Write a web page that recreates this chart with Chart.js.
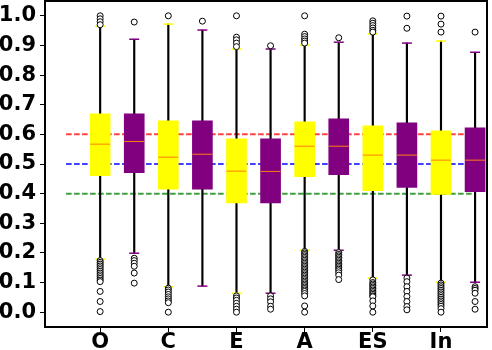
<!DOCTYPE html>
<html lang="en">
<head>
  <meta charset="UTF-8">
  <title>Boxplot</title>
  <script src="https://cdn.jsdelivr.net/npm/chart.js"></script>
  <style>
    body { margin: 0; background: #fff; overflow: hidden; }
    canvas { display: block; }
  </style>
</head>
<body>
  <canvas id="chart" width="492" height="350"></canvas>

  <script>
    const categories = ["O", "C", "E", "A", "ES", "In"];
    const yTicks = [0.0, 0.1, 0.2, 0.3, 0.4, 0.5, 0.6, 0.7, 0.8, 0.9, 1.0];

    // yellow boxes
    const loY  = [0.179, 0.086, 0.064, 0.209, 0.115, 0.101];
    const q1Y  = [0.461, 0.415, 0.369, 0.457, 0.410, 0.397];
    const medY = [0.567, 0.523, 0.476, 0.560, 0.530, 0.513];
    const q3Y  = [0.669, 0.646, 0.585, 0.642, 0.629, 0.612];
    const hiY  = [0.965, 0.972, 0.888, 0.901, 0.939, 0.915];

    // purple boxes
    const loP  = [0.199, 0.088, 0.064, 0.209, 0.125, 0.101];
    const q1P  = [0.471, 0.415, 0.369, 0.464, 0.421, 0.407];
    const medP = [0.576, 0.533, 0.475, 0.560, 0.530, 0.513];
    const q3P  = [0.669, 0.646, 0.585, 0.652, 0.639, 0.622];
    const hiP  = [0.921, 0.952, 0.888, 0.911, 0.908, 0.877];

    const outY = [
      [1.0, 0.99, 0.98, 0.97, 0.174, 0.168, 0.162, 0.156, 0.15, 0.144, 0.138, 0.132, 0.126, 0.12, 0.114, 0.108, 0.103, 0.07, 0.036, 0.002],
      [1.0, 0.081, 0.075, 0.068, 0.06, 0.052, 0.045, 0.038, 0.032, 0.0],
      [1.0, 0.928, 0.919, 0.908, 0.896, 0.055, 0.048, 0.04, 0.03, 0.02, 0.01, 0.0],
      [1.0, 0.938, 0.93, 0.922, 0.915, 0.908, 0.205, 0.2, 0.195, 0.19, 0.185, 0.18, 0.175, 0.17, 0.165, 0.16, 0.155, 0.15, 0.145, 0.14, 0.135, 0.13, 0.125, 0.12, 0.115, 0.11, 0.105, 0.1, 0.095, 0.09, 0.085, 0.08, 0.075, 0.07, 0.063, 0.055, 0.021, 0.0],
      [0.983, 0.975, 0.967, 0.959, 0.951, 0.945, 0.109, 0.1, 0.095, 0.09, 0.085, 0.08, 0.075, 0.07, 0.065, 0.06, 0.055, 0.052, 0.038, 0.021, 0.0],
      [0.999, 0.972, 0.945, 0.098, 0.092, 0.086, 0.08, 0.074, 0.068, 0.062, 0.056, 0.05, 0.044, 0.038, 0.032, 0.026, 0.02, 0.012, 0.0]
    ];
    const outP = [
      [0.979, 0.182, 0.174, 0.165, 0.155, 0.132, 0.098],
      [0.982],
      [0.899, 0.055, 0.045, 0.035, 0.02, 0.01],
      [0.926, 0.201, 0.195, 0.19, 0.185, 0.18, 0.175, 0.17, 0.165, 0.16, 0.155, 0.15, 0.145, 0.14, 0.133, 0.125, 0.11],
      [0.999, 0.958, 0.115, 0.103, 0.086, 0.07, 0.053, 0.036, 0.019, 0.008],
      [0.945, 0.086, 0.08, 0.074, 0.064, 0.036, 0.01]
    ];

    const refLines = [0.6, 0.5, 0.4];
    const refColors = ["rgba(255,0,0,0.75)", "rgba(0,0,255,0.75)", "rgba(0,128,0,0.75)"];

    const YEL = "#ffff00", PUR = "#800080";
    const posY = categories.map((c, i) => 2 * i);
    const posP = categories.map((c, i) => 2 * i + 1);

    const whiskers = [];
    posY.forEach((x, i) => whiskers.push({ x: x, y: [loY[i], hiY[i]] }));
    posP.forEach((x, i) => whiskers.push({ x: x, y: [loP[i], hiP[i]] }));

    const outliers = [];
    posY.forEach((x, i) => outY[i].forEach(v => outliers.push({ x: x, y: v })));
    posP.forEach((x, i) => outP[i].forEach(v => outliers.push({ x: x, y: v })));

    const datasets = [];
    refLines.forEach((v, i) => datasets.push({
      type: "line", order: 10,
      data: [{ x: -1, y: v }, { x: 11, y: v }],
      borderColor: refColors[i], borderWidth: 2, borderDash: [5.6, 2.4],
      pointRadius: 0
    }));
    datasets.push({
      type: "bar", order: 8, grouped: false, barThickness: 1.5,
      data: whiskers, backgroundColor: "#000"
    });
    datasets.push({
      type: "scatter", order: 7, pointStyle: "line", pointRadius: 5,
      pointBorderColor: YEL, pointBorderWidth: 1.5,
      data: posY.flatMap((x, i) => [{ x: x, y: loY[i] }, { x: x, y: hiY[i] }])
    });
    datasets.push({
      type: "scatter", order: 7, pointStyle: "line", pointRadius: 5,
      pointBorderColor: PUR, pointBorderWidth: 1.5,
      data: posP.flatMap((x, i) => [{ x: x, y: loP[i] }, { x: x, y: hiP[i] }])
    });
    datasets.push({
      type: "bar", order: 5, grouped: false, barThickness: 20,
      data: posY.map((x, i) => ({ x: x, y: [q1Y[i], q3Y[i]] })),
      backgroundColor: YEL, borderWidth: 0
    });
    datasets.push({
      type: "bar", order: 5, grouped: false, barThickness: 20,
      data: posP.map((x, i) => ({ x: x, y: [q1P[i], q3P[i]] })),
      backgroundColor: PUR, borderWidth: 0
    });
    datasets.push({
      type: "scatter", order: 3, pointStyle: "line", pointRadius: 10,
      pointBorderColor: "#ff7f0e", pointBorderWidth: 1,
      data: posY.map((x, i) => ({ x: x, y: medY[i] })).concat(posP.map((x, i) => ({ x: x, y: medP[i] })))
    });
    datasets.push({
      type: "scatter", order: 1, pointStyle: "circle", pointRadius: 3,
      pointBackgroundColor: "#fff", pointBorderColor: "#000", pointBorderWidth: 1,
      data: outliers
    });

    // axes frame on all four sides
    const frame = {
      id: "frame",
      afterDraw(chart) {
        const a = chart.chartArea, ctx = chart.ctx;
        ctx.save();
        ctx.strokeStyle = "#000";
        ctx.lineWidth = 2;
        ctx.strokeRect(a.left, a.top, a.right - a.left, a.bottom - a.top);
        ctx.restore();
      }
    };

    const tickFont = { family: "DejaVu Sans", size: 21, weight: "bold" };

    new Chart(document.getElementById("chart"), {
      type: "bar",
      data: { datasets: datasets },
      plugins: [frame],
      options: {
        responsive: false,
        devicePixelRatio: 1,
        animation: false,
        layout: { autoPadding: false, padding: { top: 1, right: 5, left: 0, bottom: 0 } },
        plugins: { legend: { display: false }, tooltip: { enabled: false } },
        scales: {
          x: {
            type: "linear", min: -1.618, max: 11.35, offset: false,
            afterBuildTicks: s => { s.ticks = posY.map(v => ({ value: v })); },
            afterFit: s => { s.height = 23; s.paddingLeft = 0; s.paddingRight = 0; },
            ticks: {
              font: tickFont, color: "#000", padding: -2, maxRotation: 0, autoSkip: false,
              callback: v => categories[v / 2]
            },
            grid: { offset: false, drawOnChartArea: false, tickLength: 5, tickColor: "#000", tickWidth: 1 },
            border: { display: true, color: "#000", width: 2 }
          },
          y: {
            type: "linear", min: -0.05, max: 1.05,
            afterBuildTicks: s => { s.ticks = yTicks.map(v => ({ value: v })); },
            afterFit: s => { s.width = 45; s.paddingTop = 0; s.paddingBottom = 0; },
            ticks: { font: tickFont, color: "#000", padding: 4, callback: v => v.toFixed(1) },
            grid: { drawOnChartArea: false, tickLength: 5, tickColor: "#000", tickWidth: 1 },
            border: { display: true, color: "#000", width: 2 }
          }
        }
      }
    });
  </script>
</body>
</html>
